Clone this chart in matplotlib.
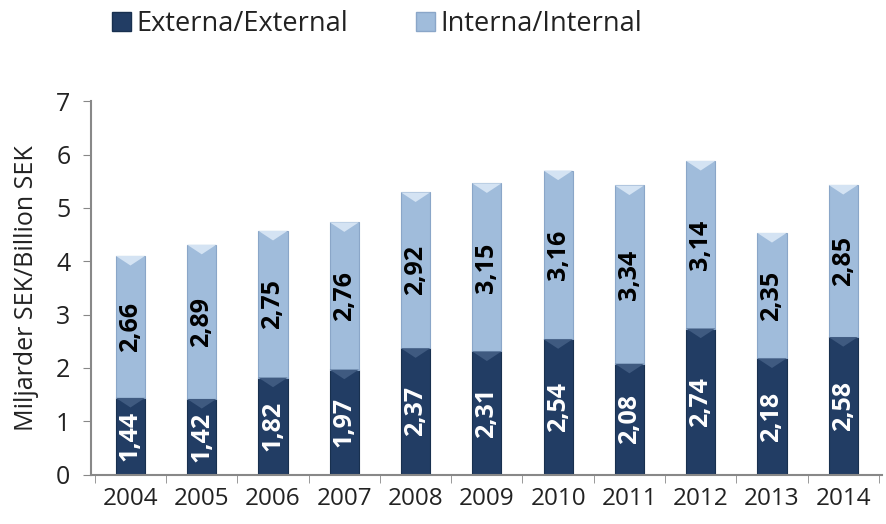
import matplotlib.pyplot as plt
import numpy as np
from matplotlib.patches import Patch

plt.rcParams['font.family'] = ['Open Sans', 'DejaVu Sans']

years = ["2004", "2005", "2006", "2007", "2008", "2009", "2010", "2011", "2012", "2013", "2014"]
externa = [1.44, 1.42, 1.82, 1.97, 2.37, 2.31, 2.54, 2.08, 2.74, 2.18, 2.58]
interna = [2.66, 2.89, 2.75, 2.76, 2.92, 3.15, 3.16, 3.34, 3.14, 2.35, 2.85]

dark = "#223d64"
light = "#a0bcdb"

fig = plt.figure(figsize=(8.86, 5.24), dpi=100)
ax = fig.add_axes([0.103, 0.094, 0.893, 0.713])

x = np.arange(len(years))
w = 0.41
ext = np.array(externa)
inn = np.array(interna)

ax.bar(x, ext, w, color=dark, edgecolor="#18304f", linewidth=0.8, zorder=2)
ax.bar(x, inn, w, bottom=ext, color=light, edgecolor="#8aa6c8", linewidth=0.8, zorder=2)

# small bevel highlight at the top of each segment
for xi, e, t in zip(x, ext, ext + inn):
    ax.fill([xi - w / 2, xi + w / 2, xi], [t, t, t - 0.18], color="#d4e3f3", zorder=3, lw=0)
    ax.fill([xi - w / 2, xi + w / 2, xi], [e, e, e - 0.18], color="#3f5a80", zorder=3, lw=0)

def fmt(v):
    return f"{v:.2f}".replace(".", ",")

for xi, e, i in zip(x, ext, inn):
    ax.text(xi, e / 2, fmt(e), rotation=90, ha="center", va="center",
            color="white", fontsize=18, fontweight="bold", zorder=4)
    ax.text(xi, e + i / 2, fmt(i), rotation=90, ha="center", va="center",
            color="black", fontsize=18, fontweight="bold", zorder=4)

ax.set_xlim(-0.55, len(years) - 0.45)
ax.set_ylim(0, 7)
ax.set_yticks(range(0, 8))
ax.set_xticks(x)
ax.set_xticklabels(years)
ax.set_xticks(np.arange(-0.5, len(years)), minor=True)
ax.tick_params(axis="x", which="major", length=0, labelsize=17.5, pad=9, colors="#222222")
ax.tick_params(axis="x", which="minor", length=6, color="#888888")
ax.tick_params(axis="y", length=6, labelsize=18, color="#888888", labelcolor="#222222", pad=9)
ax.set_ylabel("Miljarder SEK/Billion SEK", fontsize=18, color="#222222", labelpad=12)

for s in ["top", "right"]:
    ax.spines[s].set_visible(False)
for s in ["left", "bottom"]:
    ax.spines[s].set_color("#888888")
    ax.spines[s].set_linewidth(1.5)

handles = [Patch(facecolor=dark, edgecolor="#18304f", label="Externa/External"),
           Patch(facecolor=light, edgecolor="#8aa6c8", label="Interna/Internal")]
fig.legend(handles=handles, loc="upper left", bbox_to_anchor=(0.099, 1.027), ncol=2,
           frameon=False, fontsize=19.5, handlelength=0.7, handleheight=0.7,
           handletextpad=0.2, columnspacing=2.5, labelcolor="#222222")

fig.savefig("out.png", dpi=100)
